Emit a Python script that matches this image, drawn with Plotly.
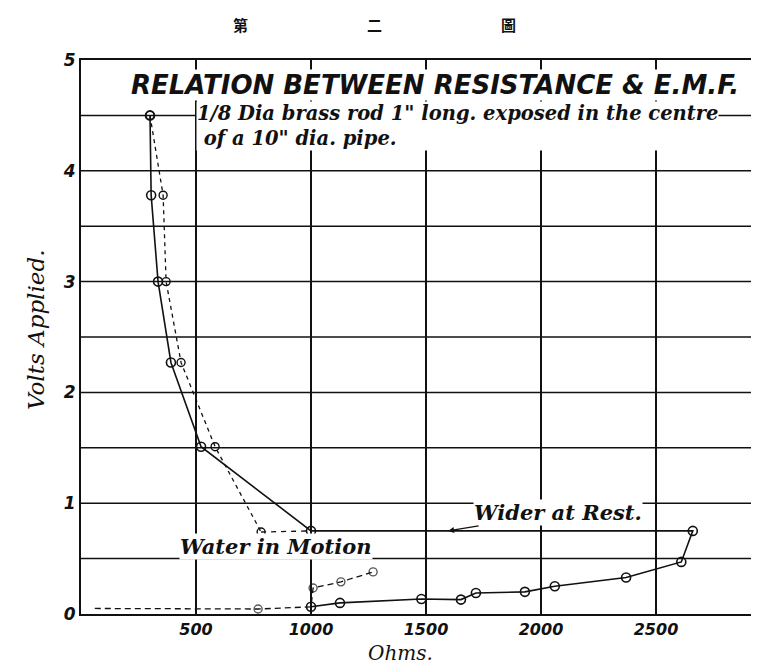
import plotly.graph_objects as go

# ---- data ----
rest_ohms = [300, 305, 335, 391, 522, 1000, 2660, 2610, 2370, 2060, 1930, 1717, 1652, 1480, 1126, 1000]
rest_volts = [4.5, 3.78, 3.0, 2.27, 1.51, 0.75, 0.75, 0.47, 0.33, 0.25, 0.20, 0.19, 0.13, 0.135, 0.10, 0.065]

motion_ohms = [300, 357, 370, 435, 583, 783]
motion_volts = [4.5, 3.78, 3.0, 2.27, 1.51, 0.74]

motion_low_ohms = [60, 770, 1000, 1009, 1130, 1270]
motion_low_volts = [0.05, 0.045, 0.065, 0.235, 0.29, 0.38]

x_tick_vals = [500, 1000, 1500, 2000, 2500]
x_tick_text = ["500", "1000", "1500", "2000", "2500"]
y_tick_vals = [0, 1, 2, 3, 4, 5]
y_tick_text = ["0", "1", "2", "3", "4", "5"]

W, H = 759, 672
L, R, T, B = 73, 0, 52, 66
PW, PH = W - L - R, H - T - B


def px(x):
    return (x - L) / PW


def py(y):
    return (H - B - y) / PH


INK = "#111111"
hand = dict(family="DejaVu Serif", color=INK)

fig = go.Figure()

fig.add_trace(go.Scatter(
    x=rest_ohms, y=rest_volts, mode="lines+markers",
    line=dict(color=INK, width=1.6),
    marker=dict(symbol="circle-open", size=9, color=INK, line=dict(width=1.6)),
    showlegend=False))

fig.add_trace(go.Scatter(
    x=motion_ohms, y=motion_volts, mode="lines+markers",
    line=dict(color=INK, width=1.3, dash="4px,4px"),
    marker=dict(symbol="circle-open", size=8, color=INK, line=dict(width=1.4)),
    showlegend=False))

fig.add_trace(go.Scatter(
    x=[motion_ohms[-1], rest_ohms[5]], y=[motion_volts[-1], rest_volts[5]],
    mode="lines", line=dict(color=INK, width=1.3, dash="5px,5px"),
    showlegend=False))

fig.add_trace(go.Scatter(
    x=motion_low_ohms, y=motion_low_volts, mode="lines+markers",
    line=dict(color=INK, width=1.3, dash="6px,4px"),
    marker=dict(symbol="circle-open", size=[0, 8, 0, 8, 8, 8], color=INK,
                line=dict(width=1.4)),
    showlegend=False))

fig.update_xaxes(
    range=[0, PW / 0.23], tickvals=x_tick_vals, ticktext=x_tick_text,
    showgrid=True, gridcolor=INK, gridwidth=1.5,
    showline=True, linecolor=INK, linewidth=2, mirror=True,
    ticks="", zeroline=False,
    tickfont=dict(family="DejaVu Sans", size=16, color=INK, weight="bold", style="italic"),
)
fig.update_yaxes(
    range=[0, 5], tickvals=y_tick_vals, ticktext=y_tick_text,
    showgrid=False,
    showline=True, linecolor=INK, linewidth=2, mirror=False,
    ticks="", zeroline=False,
    tickfont=dict(family="DejaVu Sans", size=17, color=INK, weight="bold", style="italic"),
)

# horizontal grid every 0.5 volt
for k in range(1, 10):
    fig.add_hline(y=k * 0.5, line=dict(color=INK, width=1.5), layer="below")

anns = []
anns.append(dict(x=px(427), y=py(77), text="RELATION BETWEEN RESISTANCE &amp; E.M.F.",
                 font=dict(family="DejaVu Sans", size=26, color=INK, weight="bold", style="italic"),
                 bgcolor="white"))
anns.append(dict(x=px(188), y=py(118), xanchor="left", align="left",
                 text="1/8 Dia brass rod 1\" long. exposed in the centre"
                      "<br>&nbsp;of a 10\" dia. pipe.",
                 font=dict(size=19.5, weight="bold", style="italic", **hand), bgcolor="white"))
anns.append(dict(x=px(268), y=py(538), text="Water in Motion",
                 font=dict(size=21, weight="bold", style="italic", **hand), bgcolor="white"))
anns.append(dict(x=1596, y=0.75, xref="x", yref="y", ax=110, ay=-18,
                 text="Wider at Rest.", showarrow=True, arrowhead=2, arrowsize=1,
                 arrowwidth=1.2, arrowcolor=INK, standoff=0,
                 font=dict(size=21, weight="bold", style="italic", **hand), bgcolor="white"))
anns.append(dict(x=px(28), y=py(322), text="Volts Applied.", textangle=-90,
                 font=dict(size=23, style="italic", **hand)))
anns.append(dict(x=px(392), y=py(645), text="Ohms.",
                 font=dict(size=20, style="italic", **hand)))
for ch, cx in [("第", 232), ("二", 366), ("圖", 500)]:
    anns.append(dict(x=px(cx), y=py(17), text=ch,
                     font=dict(family="Noto Sans CJK TC", size=15, color=INK, weight="bold")))

for a in anns:
    a.setdefault("xref", "paper")
    a.setdefault("yref", "paper")
    a.setdefault("showarrow", False)
    a.setdefault("xanchor", "center")
    a.setdefault("yanchor", "middle")
    a.setdefault("borderpad", 0)
fig.update_layout(annotations=anns)

fig.update_layout(
    width=W, height=H,
    margin=dict(l=L, r=R, t=T, b=B),
    paper_bgcolor="white", plot_bgcolor="white",
    showlegend=False,
)

fig.write_html("out.html")
